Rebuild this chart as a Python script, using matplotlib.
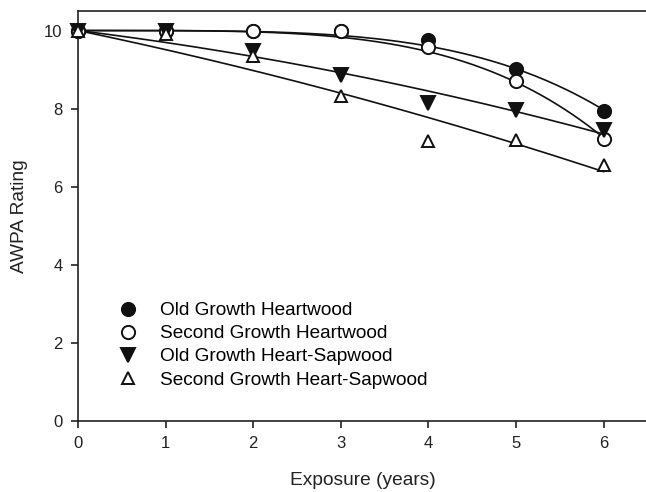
import numpy as np
import matplotlib
matplotlib.use("Agg")
import matplotlib.pyplot as plt

plt.rcParams['font.family'] = ['Liberation Sans', 'DejaVu Sans']

# exposure years and mean AWPA ratings
years = [0, 1, 2, 3, 4, 5, 6]
old_heart = [10.0, 10.0, 10.0, 10.0, 9.75, 9.02, 7.93]
second_heart = [10.0, 10.0, 10.0, 10.0, 9.57, 8.70, 7.21]
old_sap = [10.0, 10.0, 9.47, 8.87, 8.15, 7.97, 7.44]
second_sap = [10.0, 9.92, 9.36, 8.32, 7.16, 7.19, 6.56]

labels = ['Old Growth Heartwood', 'Second Growth Heartwood',
          'Old Growth Heart-Sapwood', 'Second Growth Heart-Sapwood']


def fit_curve(x, y, powers, xs):
    """Least-squares fit of y - 10 on the given powers of x (curve starts at 10)."""
    x = np.asarray(x, float)
    y = np.asarray(y, float)
    A = np.column_stack([x ** p for p in powers])
    coef, *_ = np.linalg.lstsq(A, y - 10.0, rcond=None)
    return 10.0 + sum(c * xs ** p for c, p in zip(coef, powers))


fig = plt.figure(figsize=(6.46, 4.92), dpi=100)
ax = fig.add_axes([78 / 646, 1 - 421 / 492, 569.4 / 646, 410 / 492])

xs = np.linspace(0, 6, 200)
line_kw = dict(color='#111111', lw=1.2, zorder=2)
ax.plot(xs, fit_curve(years, old_heart, [4], xs), **line_kw)
ax.plot(xs, fit_curve(years, second_heart, [4], xs), **line_kw)
ax.plot(xs, fit_curve(years, old_sap, [1, 2], xs), **line_kw)
ax.plot(xs, fit_curve(years, second_sap, [1, 2], xs), **line_kw)

mk = dict(ls='none', markeredgecolor='#111111', markeredgewidth=1.4, zorder=3, clip_on=False)
ax.plot(years, old_heart, 'o', ms=9.5, markerfacecolor='#111111', label=labels[0], **mk)
ax.plot(years, second_heart, 'o', ms=9.5, markerfacecolor='white', label=labels[1], **mk)
ax.plot(years, old_sap, 'v', ms=9.5, markerfacecolor='#111111', label=labels[2], **mk)
ax.plot(years, second_sap, '^', ms=9, markerfacecolor='white', label=labels[3], **mk)

ax.set_xlim(0, 6.5)
ax.set_ylim(0, 10.5)
ax.set_xticks(range(0, 7))
ax.set_yticks(range(0, 11, 2))
ax.tick_params(direction='out', length=5, width=1.2, labelsize=12, colors='#222222', pad=6)
for s in ['left', 'bottom', 'top']:
    ax.spines[s].set_linewidth(1.2)
    ax.spines[s].set_color('#222222')
ax.spines['right'].set_visible(False)

ax.set_xlabel('Exposure (years)', fontsize=13.8, labelpad=15, color='#222222')
ax.set_ylabel('AWPA Rating', fontsize=13.8, labelpad=12, color='#222222')

ax.legend(loc='lower left', bbox_to_anchor=(0.054, 0.056), frameon=False,
          fontsize=13.7, handlelength=1.0, handletextpad=1.2, labelspacing=0.3,
          borderpad=0)

fig.savefig('out.png', dpi=100)
